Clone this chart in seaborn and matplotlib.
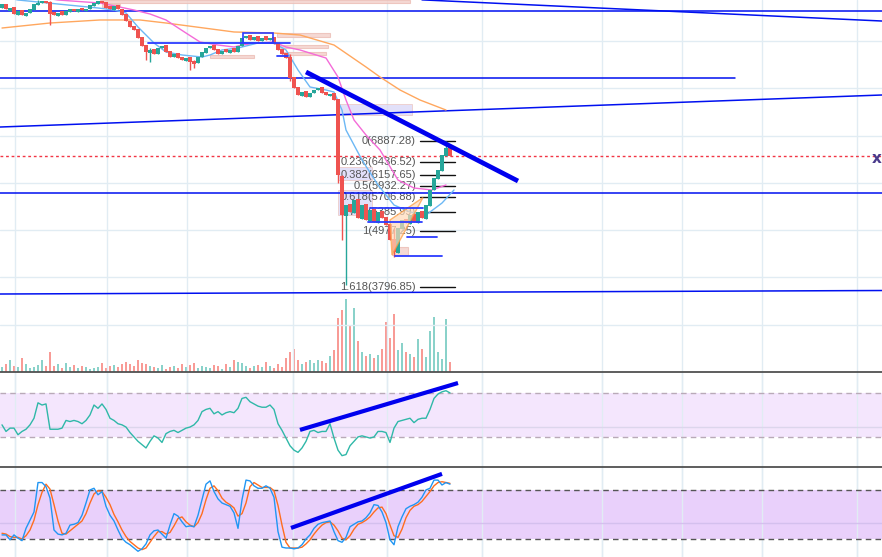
import numpy as np
import pandas as pd
import matplotlib
matplotlib.use('Agg')
import matplotlib.pyplot as plt
import seaborn as sns
from matplotlib.patches import Rectangle, Polygon

# ---- price data (one candle per bar) ----
opens = [9700, 9790, 9640, 9720, 9560, 9650, 9540, 9590, 9660, 9760,
         9800, 9850, 9830, 9620, 9540, 9640, 9550, 9610, 9690, 9610,
         9700, 9630, 9680, 9740, 9780, 9860, 9830, 9740, 9650, 9760,
         9690, 9580, 9430, 9330, 9260, 9090, 8920, 8760, 8840, 8720,
         8850, 8920, 8800, 8660, 8760, 8670, 8590, 8670, 8590, 8540,
         8660, 8760, 8850, 8920, 8840, 8720, 8830, 8760, 8850, 8770,
         8900, 9060, 9140, 9020, 9110, 9000, 9100, 9020, 9090, 8960,
         8840, 8750, 8670, 8240, 8030, 7850, 7950, 7810, 7900, 7960,
         8030, 7930, 7850, 7900, 7780, 6150, 5300, 5560, 5370, 5660,
         5240, 5550, 5200, 5450, 5160, 5400, 5280, 5130, 4810, 4520,
         5030, 5240, 5140, 5340, 5160, 5400, 5240, 5520, 5840, 6090,
         6260, 6580, 6760]
closes = [9777, 9671, 9713, 9586, 9629, 9565, 9607, 9671, 9777, 9819,
          9841, 9798, 9586, 9565, 9607, 9565, 9629, 9671, 9629, 9671,
          9650, 9692, 9756, 9798, 9841, 9819, 9713, 9671, 9735, 9671,
          9565, 9417, 9311, 9247, 9077, 8908, 8781, 8823, 8738, 8865,
          8908, 8781, 8675, 8738, 8653, 8611, 8653, 8569, 8526, 8675,
          8781, 8865, 8908, 8823, 8738, 8802, 8781, 8823, 8781, 8908,
          9077, 9120, 9035, 9099, 9014, 9077, 9035, 9077, 8950, 8823,
          8738, 8653, 8229, 8017, 7869, 7933, 7827, 7911, 7975, 8017,
          7911, 7869, 7891, 7763, 6173, 5325, 5537, 5389, 5643, 5261,
          5537, 5219, 5431, 5177, 5389, 5261, 5113, 4795, 4541, 5049,
          5219, 5155, 5325, 5177, 5389, 5261, 5537, 5855, 6109, 6279,
          6597, 6745, 6576]

# long wicks only
wick_idx = [9, 12, 36, 37, 47, 48, 72, 84, 85, 86, 98, 111, 112]
wick_high = [9880, 9841, 8920, 8865, 8670, 8600, 8738, 7780, 6173, 5537, 5049, 6887, 6790]
wick_low = [9760, 9353, 8611, 8570, 8399, 8440, 8150, 6000, 4795, 3841, 4435, 6580, 6560]

volume = [5, 8, 12, 6, 5, 14, 8, 4, 5, 7, 12, 6,
          20,
          6, 8, 4, 9, 5, 7, 4, 6, 5, 3, 4, 5, 9, 4, 6, 7, 5, 8,
          10, 8, 6, 12, 9, 8,
          6, 5, 4, 7, 3, 5, 6, 4, 8, 5, 7, 9, 4, 6,
          5, 4, 7, 6, 3, 8, 5, 12, 10, 9, 6, 4, 6, 7, 5, 10, 6, 4, 8, 5,
          14, 20, 23, 12, 8, 10, 12, 9, 12, 11, 9, 16, 22, 54, 62, 73, 47, 64, 31, 20,
          16, 18, 14, 17, 23, 50, 34, 58, 22, 29, 20, 18, 15, 33, 23, 15, 41, 55, 20, 13,
          53, 10]

rsi = [41, 35, 38, 38, 32, 35, 37, 41, 47, 61, 59, 60, 37, 37, 37, 38, 45, 44, 45, 44,
       42, 45, 50, 59, 56, 60, 55, 47, 45, 42, 41, 39, 34, 30, 26, 23, 20, 26, 31, 29,
       25, 33, 35, 36, 34, 36, 38, 39, 41, 45, 53, 55, 56, 51, 53, 50, 52, 53, 52, 56,
       65, 66, 62, 60, 58, 57, 57, 59, 55, 42, 36, 29, 22, 18, 16, 20, 26, 35, 36, 34,
       35, 35, 42, 29, 18, 13, 14, 22, 26, 30, 31, 30, 29, 30, 35, 35, 34, 25, 38, 44,
       45, 46, 47, 43, 46, 47, 47, 55, 65, 69, 71, 72, 70]

stoch_k = [25, 25, 19, 25, 21, 18, 33, 43, 53, 89, 89, 84, 70, 31, 26, 25, 27, 37, 38, 40,
           49, 64, 80, 82, 74, 78, 60, 49, 42, 31, 21, 16, 13, 9, 5, 8, 14, 25, 30, 31,
           26, 21, 37, 51, 48, 41, 35, 36, 35, 49, 68, 87, 91, 78, 69, 64, 62, 60, 52, 33,
           68, 92, 91, 85, 82, 82, 85, 82, 71, 29, 10, 9, 9, 8, 9, 13, 20, 25, 33, 38,
           40, 41, 42, 29, 18, 16, 22, 35, 38, 41, 42, 46, 52, 62, 61, 53, 40, 19, 13, 35,
           47, 57, 60, 62, 65, 71, 80, 82, 92, 92, 86, 89, 87]
stoch_d = [27, 26, 23, 22, 22, 20, 24, 31, 43, 62, 77, 87, 81, 62, 42, 27, 26, 30, 34, 38,
           42, 51, 64, 75, 79, 78, 71, 62, 50, 41, 31, 23, 17, 13, 9, 7, 9, 16, 23, 29,
           29, 26, 28, 36, 45, 47, 41, 37, 35, 40, 51, 68, 82, 85, 79, 70, 65, 62, 58, 48,
           51, 64, 84, 89, 86, 83, 83, 83, 79, 61, 37, 16, 9, 9, 9, 10, 14, 19, 26, 32,
           37, 40, 41, 37, 30, 21, 19, 24, 32, 38, 40, 43, 47, 53, 58, 59, 51, 37, 24, 22,
           32, 46, 55, 60, 62, 66, 72, 78, 85, 89, 90, 89, 88]

# moving averages (sampled points)
ma_fast_idx = [0, 4, 9, 14, 19, 24, 28, 31, 34, 38, 41, 45, 50, 52, 55, 59, 64, 68, 71, 74,
               77, 81, 83, 85, 86, 90, 94, 98, 102, 106, 110, 113]
ma_fast = [9950, 9872, 9830, 9787, 9745, 9703, 9660, 9597, 9300, 8962, 8771, 8708, 8665, 8708,
           8814, 8856, 8962, 8962, 8814, 8390, 8030, 7967, 7924, 7543, 7120, 6485, 5956, 5532,
           5384, 5320, 5574, 5850]
ma_mid_idx = [8, 14, 24.5, 27, 33, 37, 41, 46, 49.5, 54, 58, 60, 64, 68, 71, 74.5, 81, 84,
              86, 88, 91, 94.5, 99, 103, 107.5, 111]
ma_mid = [9950, 9872, 9808, 9766, 9660, 9576, 9449, 9173, 8983, 8919, 8877, 8919, 8962, 8983,
          8877, 8814, 8644, 8242, 7755, 7332, 7014, 6697, 6061, 5892, 5850, 5956]
ma_slow_idx = [0, 12, 24.5, 34.5, 41, 58, 68, 74.5, 83, 91, 94.5, 99.5, 104.5, 111]
ma_slow = [9279, 9385, 9449, 9449, 9385, 9195, 9173, 9131, 8919, 8454, 8242, 7967, 7755, 7543]

# fibonacci retracement
fib_ratios = ['0', '0.236', '0.382', '0.5', '0.618', '0.786', '1', '1.618']
fib_prices = [6887.28, 6436.52, 6157.65, 5932.27, 5706.88, 5385.99, 4977.25, 3796.85]

# drawn lines: (x0, price0, x1, price1)
thin_lines = [(-0.5, 9646, 220, 9646), (105, 9875, 220, 9427), (-0.5, 8215, 183.25, 8215),
              (-0.5, 7183, 220, 7861), (-0.5, 5786, 220, 5786), (-0.5, 3648, 220, 3722)]
trend_main = (76, 8348, 129, 6040)
trend_rsi = (74.5, 36.4, 114, 79)
trend_stoch = (72.25, 33.5, 110, 99.6)
short_blue = [(36.5, 8962, 72, 8962), (68.75, 8686, 71.5, 8686), (92, 5469, 105.25, 5469),
              (91.5, 5172, 105, 5172), (101.25, 4855, 108.75, 4855), (98.25, 4452, 110, 4452)]
# zones: (x0, x1, price_lo, price_hi)
salmon_zones = [(24.5, 102, 9810, 9880), (68.75, 82, 9089, 9173), (69.5, 81.5, 8856, 8919),
                (70, 81, 8708, 8771), (52, 63, 8644, 8708), (25, 29.5, 9724, 9787),
                (97.5, 101.5, 4474, 4643)]
lavender_zones = [(83.75, 102.5, 7437, 7670), (84, 92.5, 6061, 6336), (84, 92.5, 5320, 5850)]
box_zone = (60.25, 67.75, 8962, 9173)
wedge_idx = [97.5, 105.25, 97]
wedge_price = [4474, 5690, 5215]

month_lines = [3.25, 26.25, 46.25, 72.75, 96.25, 120, 150, 170, 190, 213.75]
last_price = 6570

# ---- build ----
n = len(closes)
idx = np.arange(n)
df = pd.DataFrame({'i': idx, 'open': opens, 'close': closes, 'vol': volume,
                   'rsi': rsi, 'k': stoch_k, 'd': stoch_d})
df['high'] = df[['open', 'close']].max(axis=1)
df['low'] = df[['open', 'close']].min(axis=1)
df.loc[wick_idx, 'high'] = wick_high
df.loc[wick_idx, 'low'] = wick_low
up_c, dn_c = '#26a69a', '#ef5350'
df['color'] = np.where(df['close'] >= df['open'], up_c, dn_c)
df['vcolor'] = np.where(df['close'] >= df['open'], '#8ad2ca', '#f89b96')

sns.set_theme(style='white')
grid_c = '#e1ecf3'
W, H = 882, 557
fig = plt.figure(figsize=(W / 100, H / 100), dpi=100)
ax = fig.add_axes([0, 185 / H, 1, 372 / H])
ax_rsi = fig.add_axes([0, 90 / H, 1, 95 / H])
ax_st = fig.add_axes([0, 0, 1, 90 / H])
XL = (-0.5, 220)

for a in (ax, ax_rsi, ax_st):
    a.set_xlim(*XL)
    a.set_xticks([])
    a.set_yticks([])
    for s in a.spines.values():
        s.set_visible(False)
    for m in month_lines:
        a.axvline(m, color=grid_c, lw=1, zorder=0)

# main price panel
ax.set_ylim(1997, 9872)
for g in range(2000, 10000, 1000):
    ax.axhline(g, color=grid_c, lw=1, zorder=0)
ax.spines['bottom'].set_visible(True)
ax.spines['bottom'].set_color('#4a4a4a')

axv = ax.twinx()
axv.set_ylim(0, 372)
axv.set_xlim(*XL)
axv.bar(df['i'], df['vol'], width=0.6, color=df['vcolor'], edgecolor='none', lw=0, zorder=1)
axv.set_yticks([])
for s in axv.spines.values():
    s.set_visible(False)
axv.patch.set_visible(False)
ax.set_zorder(axv.get_zorder() + 1)
ax.patch.set_visible(False)

for x0, x1, lo, hi in salmon_zones:
    ax.add_patch(Rectangle((x0, lo), x1 - x0, hi - lo, facecolor='#f4d3cd', edgecolor='#ecc0b8',
                           lw=0.8, alpha=0.85, zorder=1))
for x0, x1, lo, hi in lavender_zones:
    ax.add_patch(Rectangle((x0, lo), x1 - x0, hi - lo, facecolor='#d9d6f7', edgecolor='#ecc0b8',
                           lw=0.6, alpha=0.75, zorder=1))
bx0, bx1, blo, bhi = box_zone
ax.add_patch(Rectangle((bx0, blo), bx1 - bx0, bhi - blo, facecolor='none', edgecolor='#2b3cff',
                       lw=1.2, zorder=5))

ax.add_patch(Polygon(list(zip(wedge_idx, wedge_price)), closed=True, facecolor='#ffd9b8',
                     edgecolor='#ff9a3c', lw=1, alpha=0.7, zorder=5))

for x0, p0, x1, p1 in thin_lines:
    ax.plot([x0, x1], [p0, p1], color='#0010f0', lw=1.1, zorder=3)
for x0, p0, x1, p1 in short_blue:
    ax.plot([x0, x1], [p0, p1], color='#2b3cff', lw=1.3, zorder=5)

ax.axhline(last_price, color='#f23645', lw=1, ls=(0, (2, 2)), zorder=3)

# fib levels
for r, p in zip(fib_ratios, fib_prices):
    ax.plot([104.5, 113.25], [p, p], color='#111111', lw=1, zorder=2)
    ax.text(103.5, p, f'{r}({p:.2f})', ha='right', va='center', fontsize=8,
            family='Liberation Sans', color='#555555', zorder=2)

# moving averages
sns.lineplot(x=ma_slow_idx, y=ma_slow, ax=ax, color='#ffa75e', lw=1, zorder=3)
sns.lineplot(x=ma_mid_idx, y=ma_mid, ax=ax, color='#f46bd8', lw=1, zorder=3)
sns.lineplot(x=ma_fast_idx, y=ma_fast, ax=ax, color='#6cb8f5', lw=1, zorder=3)

# candles
ax.vlines(df['i'], df['low'], df['high'], colors=df['color'], lw=1, zorder=4)
body = (df['close'] - df['open']).abs().clip(lower=25)
ax.bar(df['i'], body, bottom=df[['open', 'close']].min(axis=1), width=0.88,
       color=df['color'], edgecolor='none', lw=0, zorder=4)

x0, p0, x1, p1 = trend_main
ax.plot([x0, x1], [p0, p1], color='#0000ee', lw=3.4, solid_capstyle='butt', zorder=6)
ax.text(218.8, 6527, 'x', color='#4a3b8c', fontsize=11, fontweight='bold',
        ha='center', va='center', zorder=6)
ax.set_xlim(*XL)

# RSI panel
ax_rsi.set_ylim(2.7, 89)
ax_rsi.axhspan(30, 70, color='#f4e6fd', lw=0, zorder=0)
for m in month_lines:
    ax_rsi.axvline(m, color=grid_c, lw=1, zorder=0.5)
ax_rsi.axhline(39, color='#dcd6ec', lw=1, zorder=0.5)
for lv in (70, 30):
    ax_rsi.axhline(lv, color='#b9aab8', lw=1, ls=(0, (4, 3)), zorder=1)
sns.lineplot(x=df['i'], y=df['rsi'], ax=ax_rsi, color='#2fb8a8', lw=1, zorder=3)
x0, p0, x1, p1 = trend_rsi
ax_rsi.plot([x0, x1], [p0, p1], color='#0000ee', lw=3, solid_capstyle='butt', zorder=4)
ax_rsi.set_xlim(*XL)

# Stochastic panel
ax_st.set_ylim(-2, 108)
ax_st.axhspan(20, 80, color='#e9d0fb', lw=0, zorder=0)
for m in month_lines:
    ax_st.axvline(m, color=grid_c, lw=1, zorder=0.5)
ax_st.axhline(39.6, color='#d4c0ee', lw=1, zorder=0.5)
for lv in (80, 20):
    ax_st.axhline(lv, color='#555555', lw=1, ls=(0, (4, 3)), zorder=1)
ax_st.spines['top'].set_visible(True)
ax_st.spines['top'].set_color('#4a4a4a')
sns.lineplot(x=df['i'], y=df['d'], ax=ax_st, color='#ff6d1f', lw=1, zorder=3)
sns.lineplot(x=df['i'], y=df['k'], ax=ax_st, color='#2196f3', lw=1, zorder=3)
x0, p0, x1, p1 = trend_stoch
ax_st.plot([x0, x1], [p0, p1], color='#0000ee', lw=3, solid_capstyle='butt', zorder=4)
ax_st.set_xlim(*XL)

for a in (ax, ax_rsi, ax_st):
    a.set_xlabel('')
    a.set_ylabel('')

fig.savefig('out.png', dpi=100)
